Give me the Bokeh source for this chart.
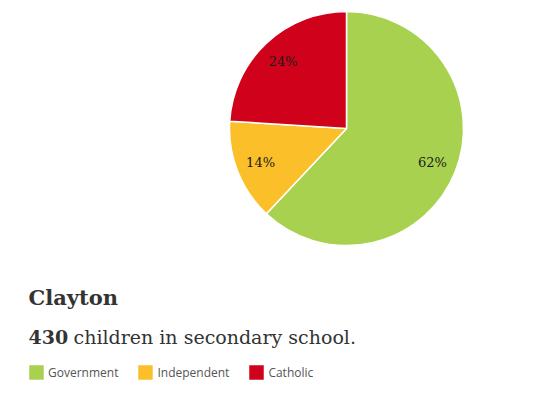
import math
from bokeh.plotting import figure
from bokeh.models import ColumnDataSource, Range1d, Legend, LegendItem
from bokeh.core.properties import value
from bokeh.embed import file_html
from bokeh.resources import INLINE

categories = ["Government", "Independent", "Catholic"]
shares = [62, 14, 24]
colors = ["#a8d14f", "#fbbf2a", "#d0021b"]
title_text = "Clayton"
count_text = "430"
subtitle_text = "children in secondary school."

W, H = 546, 388
p = figure(width=W, height=H, output_backend="svg", toolbar_location=None,
           x_range=Range1d(0, W), y_range=Range1d(0, H), min_border=0)
p.axis.visible = False
p.grid.visible = False
p.outline_line_color = None
p.background_fill_color = "white"

cx, cy, r = 346, H - 128, 117
total = sum(shares)
starts, ends, lx, ly, labels = [], [], [], [], []
cum = 0
for s in shares:
    a0 = math.pi / 2 - 2 * math.pi * cum / total
    cum += s
    a1 = math.pi / 2 - 2 * math.pi * cum / total
    starts.append(a0)
    ends.append(a1)
    mid = (a0 + a1) / 2
    lx.append(cx + 0.79 * r * math.cos(mid))
    ly.append(cy + 0.79 * r * math.sin(mid))
    labels.append(f"{s}%")

src = ColumnDataSource(dict(cat=categories, start=starts, end=ends, color=colors,
                            lx=lx, ly=ly, label=labels))
w = p.wedge(x=cx, y=cy, radius=r, start_angle="start", end_angle="end",
            direction="clock", fill_color="color", line_color="white",
            line_width=1.5, source=src)
p.text(x="lx", y="ly", text="label", source=src, text_align="center",
       text_baseline="middle", text_font=value("DejaVu Serif"),
       text_font_size="13px", text_color="#1a1a1a")

p.text(x=[28], y=[H - 297], text=[title_text], text_font=value("DejaVu Serif"),
       text_font_style="bold", text_font_size="21px", text_color="#333333",
       text_baseline="middle")
p.text(x=[28], y=[H - 336], text=[count_text], text_font=value("DejaVu Serif"),
       text_font_style="bold", text_font_size="19px", text_color="#333333",
       text_baseline="middle")
p.text(x=[73], y=[H - 336], text=[subtitle_text], text_font=value("DejaVu Serif"),
       text_font_size="19px", text_color="#333333", text_baseline="middle")

items = [LegendItem(label=c, renderers=[w], index=i) for i, c in enumerate(categories)]
legend = Legend(items=items, orientation="horizontal", location=(26, H - 382),
                glyph_width=20, glyph_height=20, label_height=20,
                label_standoff=2, spacing=17, padding=0, margin=0,
                border_line_color=None, background_fill_alpha=0,
                label_text_font="Open Sans", label_text_font_size="12px",
                label_text_color="#555555")
p.add_layout(legend, "center")

open("out.html", "w").write(file_html(p, INLINE))
